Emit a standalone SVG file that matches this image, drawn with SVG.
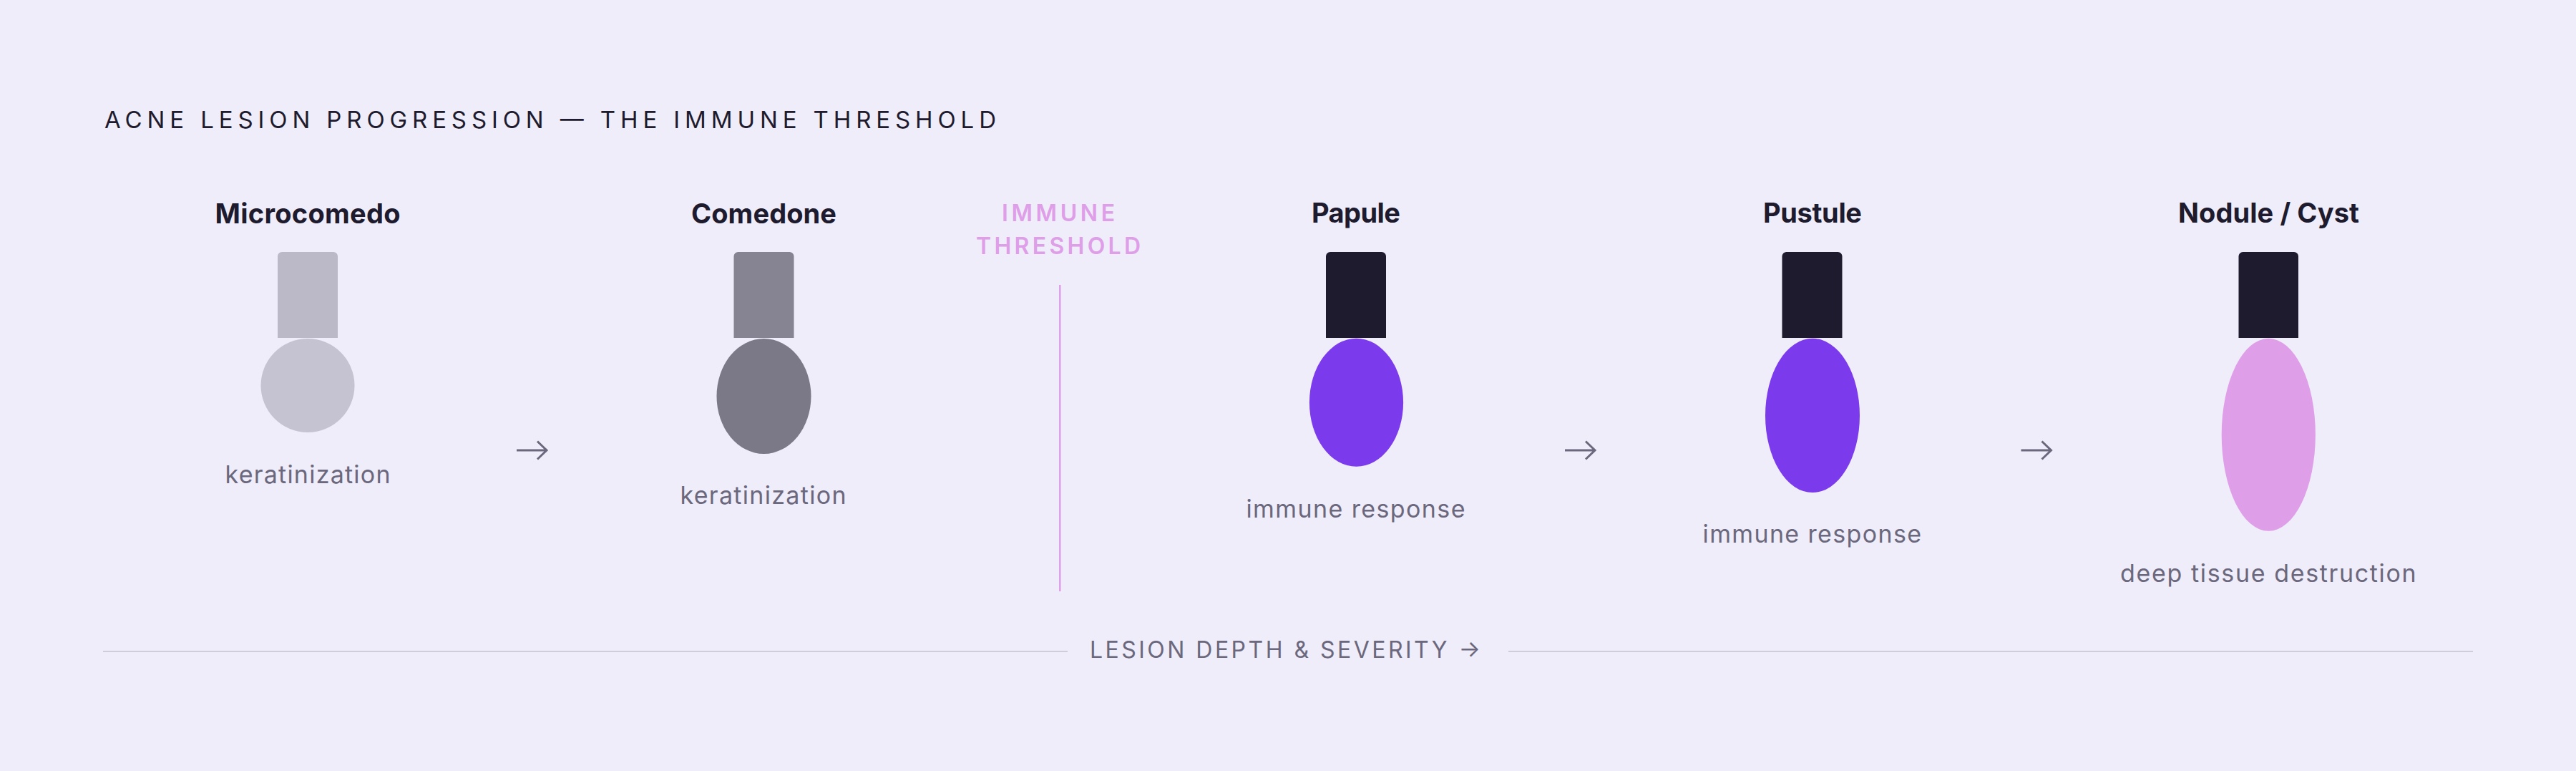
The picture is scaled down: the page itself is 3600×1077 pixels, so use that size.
<svg xmlns="http://www.w3.org/2000/svg" width="3600" height="1077" viewBox="0 0 3600 1077">
<defs>
<style>
text{font-family:Inter,"DejaVu Sans",sans-serif}
.title{font-size:33px;fill:#1e1b2e;font-weight:400}
.name{font-size:38px;fill:#1e1b2e;font-weight:700;text-anchor:middle}
.sub{font-size:34px;fill:#6b687d;font-weight:400;text-anchor:middle}
.thr{font-size:32px;fill:#df9ee8;font-weight:600;text-anchor:middle}
.axis{font-size:32px;fill:#6b687d;font-weight:400;text-anchor:middle}
.arrow{fill:none;stroke:#6b687d;stroke-width:3;stroke-linecap:butt}
.rule{stroke:#cfcddc;stroke-width:2}
</style>
</defs>
<rect width="3600" height="1077" fill="#efedf9"/>
<text class="title" x="146" y="179" textLength="1246" lengthAdjust="spacing">ACNE LESION PROGRESSION — THE IMMUNE THRESHOLD</text>

<g id="threshold">
<text class="thr" x="1479" y="309" textLength="158" lengthAdjust="spacing">IMMUNE</text>
<text class="thr" x="1479" y="355" textLength="230" lengthAdjust="spacing">THRESHOLD</text>
<line x1="1481.3" y1="398" x2="1481.3" y2="826" stroke="#df9ee8" stroke-width="2.5"/>
</g>

<g id="microcomedo">
<text class="name" x="430" y="312" textLength="259" lengthAdjust="spacing">Microcomedo</text>
<path d="M388,472 V358 a6,6 0 0 1 6,-6 H466 a6,6 0 0 1 6,6 V472 Z" fill="#bbb9c8"/>
<ellipse cx="430" cy="538.5" rx="65.5" ry="65.5" fill="#c5c3d2"/>
<text class="sub" x="430" y="675" textLength="231" lengthAdjust="spacing">keratinization</text>
</g>

<g id="comedone">
<text class="name" x="1067.5" y="312" textLength="203" lengthAdjust="spacing">Comedone</text>
<path d="M1025.5,472 V358 a6,6 0 0 1 6,-6 H1103.5 a6,6 0 0 1 6,6 V472 Z" fill="#868493"/>
<ellipse cx="1067.5" cy="553.5" rx="66" ry="80.5" fill="#7b7988"/>
<text class="sub" x="1066.5" y="704" textLength="232" lengthAdjust="spacing">keratinization</text>
</g>

<g id="papule">
<text class="name" x="1895" y="311" textLength="124" lengthAdjust="spacing">Papule</text>
<path d="M1853,472 V358 a6,6 0 0 1 6,-6 H1931 a6,6 0 0 1 6,6 V472 Z" fill="#1e1b2e"/>
<ellipse cx="1895.5" cy="562.3" rx="65.6" ry="89.5" fill="#7c3aed"/>
<text class="sub" x="1894.5" y="722.6" textLength="306" lengthAdjust="spacing">immune response</text>
</g>

<g id="pustule">
<text class="name" x="2533" y="311" textLength="138" lengthAdjust="spacing">Pustule</text>
<path d="M2490.5,472 V358 a6,6 0 0 1 6,-6 H2568.5 a6,6 0 0 1 6,6 V472 Z" fill="#1e1b2e"/>
<ellipse cx="2533" cy="580.4" rx="66" ry="107.7" fill="#7c3aed"/>
<text class="sub" x="2532.3" y="758" textLength="305.5" lengthAdjust="spacing">immune response</text>
</g>

<g id="nodule-cyst">
<text class="name" x="3170.5" y="311" textLength="253" lengthAdjust="spacing">Nodule / Cyst</text>
<path d="M3128.5,472 V358 a6,6 0 0 1 6,-6 H3206 a6,6 0 0 1 6,6 V472 Z" fill="#1e1b2e"/>
<ellipse cx="3170.3" cy="607.3" rx="65.6" ry="134.5" fill="#df9ee8"/>
<text class="sub" x="3169.8" y="812.6" textLength="413.5" lengthAdjust="spacing">deep tissue destruction</text>
</g>

<g id="connectors">
<path class="arrow" d="M722,629 H764 M751,616.5 L764,629 L751,641.5"/>
<path class="arrow" d="M2187,629 H2229 M2216,616.5 L2229,629 L2216,641.5"/>
<path class="arrow" d="M2824.5,629 H2866.5 M2853.5,616.5 L2866.5,629 L2853.5,641.5"/>
</g>

<g id="axis">
<line class="rule" x1="144" y1="910" x2="1492" y2="910"/>
<line class="rule" x1="2108" y1="910" x2="3456" y2="910"/>
<text class="axis" x="1796" y="919" textLength="546" lengthAdjust="spacing">LESION DEPTH &amp; SEVERITY →</text>
</g>
</svg>
